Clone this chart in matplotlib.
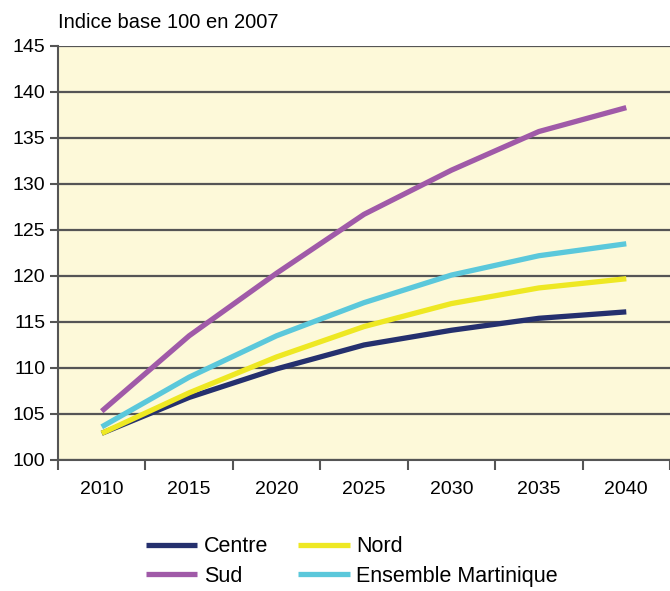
import matplotlib.pyplot as plt

plt.rcParams['font.family'] = ['Liberation Sans', 'DejaVu Sans']

annees = ['2010', '2015', '2020', '2025', '2030', '2035', '2040']
centre = [102.9, 106.8, 109.9, 112.5, 114.1, 115.4, 116.1]
nord = [102.9, 107.3, 111.2, 114.5, 117.0, 118.7, 119.7]
sud = [105.3, 113.5, 120.3, 126.7, 131.5, 135.7, 138.3]
ensemble = [103.6, 109.0, 113.5, 117.1, 120.1, 122.2, 123.5]

series = [('Centre', centre, '#25306e'),
          ('Nord', nord, '#eee823'),
          ('Sud', sud, '#a05aa8'),
          ('Ensemble Martinique', ensemble, '#5bc8db')]

fig = plt.figure(figsize=(6.7, 5.91), dpi=100)
ax = fig.add_axes([0.0866, 0.2217, 0.9134, 0.7005])
ax.set_facecolor('#fdf9d9')

x = list(range(len(annees)))
lines = {}
for nom, vals, col in series:
    lines[nom], = ax.plot(x, vals, color=col, lw=3.8, solid_capstyle='butt', zorder=3)

ax.set_xlim(-0.5, 6.5)
ax.set_ylim(100, 145)
ax.set_yticks(range(100, 146, 5))
ax.grid(axis='y', color='#555555', lw=1.6, zorder=1)
ax.set_xticks(x)
ax.set_xticklabels(annees)
ax.set_xticks([i - 0.5 for i in range(8)], minor=True)
ax.tick_params(axis='x', which='major', length=0, pad=15, labelsize=14)
ax.tick_params(axis='x', which='minor', length=7, width=1.5, color='#555555', direction='out')
ax.tick_params(axis='y', length=6, width=1.5, color='#555555', labelsize=14, pad=3)

for s in ['top', 'right']:
    ax.spines[s].set_visible(False)
for s in ['left', 'bottom']:
    ax.spines[s].set_color('#555555')
    ax.spines[s].set_linewidth(1.5)

fig.text(0.0866, 0.962, 'Indice base 100 en 2007', fontsize=14.5, va='center', ha='left')

order = ['Centre', 'Sud', 'Nord', 'Ensemble Martinique']
fig.legend([lines[n] for n in order], order, ncol=2, loc='center',
           bbox_to_anchor=(0.525, 0.05), frameon=False, fontsize=15.5,
           handlelength=2.4, handletextpad=0.3, columnspacing=1.4,
           labelspacing=0.4)

fig.savefig('out.png', dpi=100)
